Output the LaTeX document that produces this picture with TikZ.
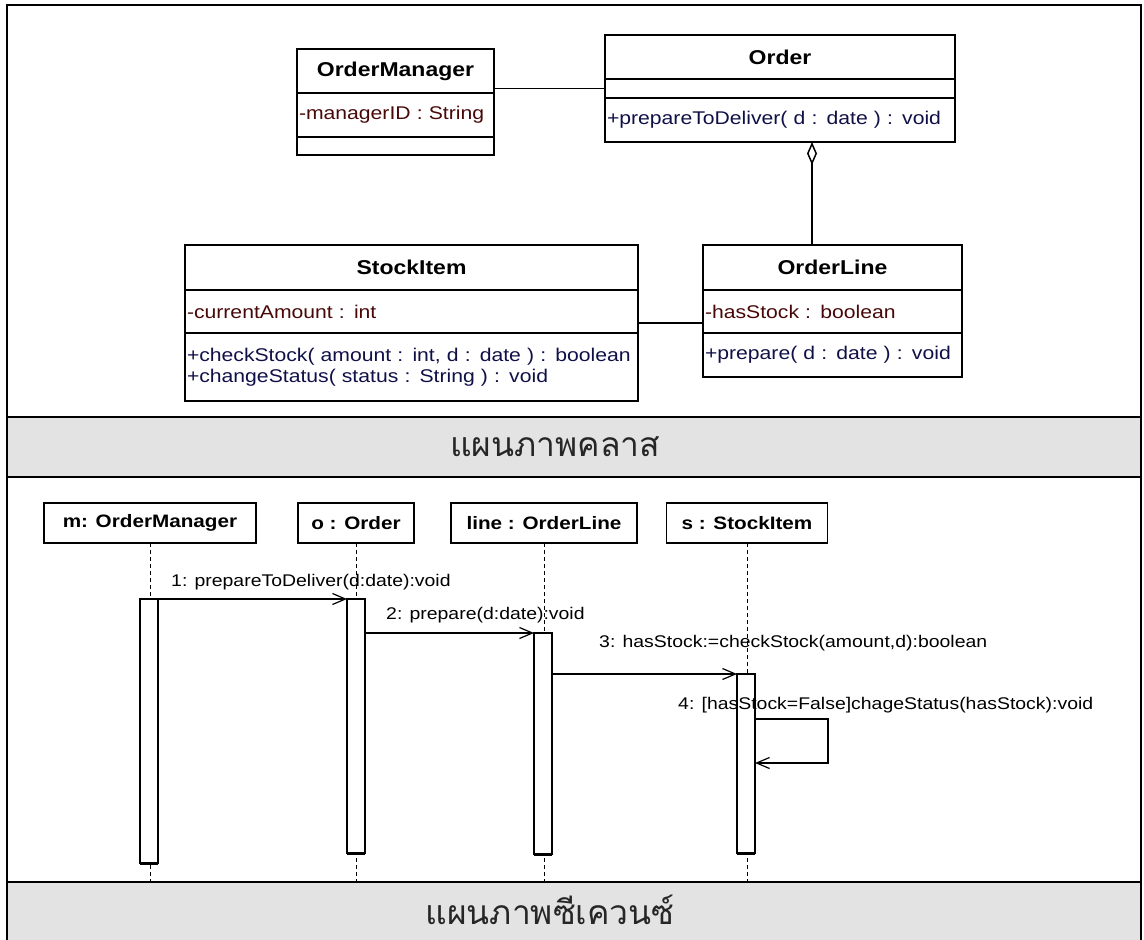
\documentclass[tikz,border=0pt]{standalone}
\usepackage{fontspec}
\setmainfont{Liberation Sans}[FakeStretch=1.15]
\newfontfamily\thaifont[Script=Thai]{Loma}
\usetikzlibrary{positioning,arrows.meta}

\definecolor{attrcol}{RGB}{72,8,8}
\definecolor{opcol}{RGB}{16,16,72}
\definecolor{bandgray}{RGB}{227,227,227}

\begin{document}
\begin{tikzpicture}[x=1pt, y=-1pt,
    hdr/.style={draw, line width=1.5pt, outer sep=0pt, inner sep=0pt, font=\fontsize{20}{24}\selectfont\bfseries},
    cmp/.style={draw, line width=1.5pt, outer sep=0pt, inner xsep=2pt, inner ysep=0pt, align=left, font=\fontsize{18.4}{21}\selectfont},
    attr/.style={cmp, text=attrcol},
    op/.style={cmp, text=opcol},
    assoc/.style={line width=1.5pt},
    band/.style={draw, line width=2.5pt, fill=bandgray, outer sep=0pt, minimum width=1134, minimum height=60},
    thai/.style={inner sep=0pt, text=black!85, font=\thaifont\fontsize{33.6}{38}\selectfont},
    obj/.style={draw, line width=1.5pt, outer sep=0pt, minimum height=40, font=\fontsize{18}{22}\selectfont\bfseries},
    lifeline/.style={dashed, dash pattern=on 4pt off 3pt, line width=1pt},
    act/.style={draw, fill=white, line width=1.2pt, outer sep=0pt, inner sep=0pt, minimum width=18},
    msg/.style={line width=1.2pt, -{Straight Barb[length=13pt, width=11pt]}},
    lbl/.style={inner sep=0pt, anchor=west, font=\fontsize{16.9}{20}\selectfont}]
\useasboundingbox (0,0) rectangle (1144,940);
\clip (0,0) rectangle (1144,940);

% frame and the two title bands
\draw[line width=2.5pt] (7,5) rectangle (1141,945);
\node[band] (band1) at (574,447) {};
\node[band] (band2) at (574,912) {};
\node[thai] (t1) at (555,447) {แผนภาพคลาส};
\node[thai] (t2) at (550,910) {แผนภาพซีเควนซ์};

% classes
\node[hdr, minimum width=197, minimum height=44] (om) at (395.5,71) {OrderManager};
\node[attr, text width=193, minimum height=44, below=0pt of om] (om-a) {-managerID : String};
\node[cmp, text width=193, minimum height=18, below=0pt of om-a] (om-o) {};

\node[hdr, minimum width=350, minimum height=44] (ord) at (780,57) {Order};
\node[cmp, text width=346, minimum height=19, below=0pt of ord] (ord-a) {};
\node[op, text width=346, minimum height=44, below=0pt of ord-a] (ord-o) {+prepareToDeliver( d : date ) : void};

\node[hdr, minimum width=453, minimum height=45] (si) at (411.5,267.5) {StockItem};
\node[attr, text width=449, minimum height=43, below=0pt of si] (si-a) {-currentAmount : int};
\node[op, text width=449, minimum height=68, below=0pt of si-a] (si-o) {+checkStock( amount : int, d : date ) : boolean\\+changeStatus( status : String ) : void};

\node[hdr, minimum width=259, minimum height=45] (ol) at (832.5,267.5) {OrderLine};
\node[attr, text width=255, minimum height=43, below=0pt of ol] (ol-a) {-hasStock : boolean};
\node[op, text width=255, minimum height=44, below=0pt of ol-a] (ol-o) {+prepare( d : date ) : void};

% associations
\coordinate (agg) at ([xshift=32pt]ord-o.south);
\coordinate (si-ol) at ([yshift=-11.5pt]si-a.east);
\draw[assoc] (ord-a.west) -- (ord-a.west -| om.east);
\draw[assoc] (si-ol) -- (si-ol -| ol-a.west);
\draw[assoc, {Diamond[open, length=23pt, width=10pt]}-] (agg) -- (agg |- ol.north);

% objects and lifelines
\node[obj, minimum width=212] (m) at (150,523) {m: OrderManager};
\node[obj, minimum width=116] (o) at (356,523) {o : Order};
\node[obj, minimum width=186] (l) at (544,523) {line : OrderLine};
\node[obj, minimum width=161] (s) at (747,523) {s : StockItem};
\foreach \n in {m,o,l,s}
{
    \draw[lifeline] (\n) -- (\n |- band2.north);
}

% activations
\node[act, minimum height=264] (m-act) at (149,731) {};
\node[act, minimum height=254] (o-act) at (356,726) {};
\node[act, minimum height=221] (l-act) at (543,743.5) {};
\node[act, minimum height=179] (s-act) at (746,763.5) {};
\foreach \a in {m-act,o-act,l-act,s-act}
{
    \draw[line width=3pt] (\a.south west) -- (\a.south east);
}

% messages
\draw[msg] (m-act.north east) -- (o-act.north west);
\draw[msg] (l-act.north west -| o-act.east) -- (l-act.north west);
\draw[msg] (s-act.north west -| l-act.east) -- (s-act.north west);
\coordinate (self) at ([yshift=-45pt]s-act.north east);
\draw[msg] (self) -- ++(73,0) -- ++(0,44) -- ([yshift=-89pt]s-act.north east);

\node[lbl] (msg1) at (171,582) {1: prepareToDeliver(d:date):void};
\node[lbl] (msg2) at (386,615) {2: prepare(d:date):void};
\node[lbl] (msg3) at (599,643) {3: hasStock:=checkStock(amount,d):boolean};
\node[lbl] (msg4) at (678,705) {4: [hasStock=False]chageStatus(hasStock):void};
\end{tikzpicture}
\end{document}
